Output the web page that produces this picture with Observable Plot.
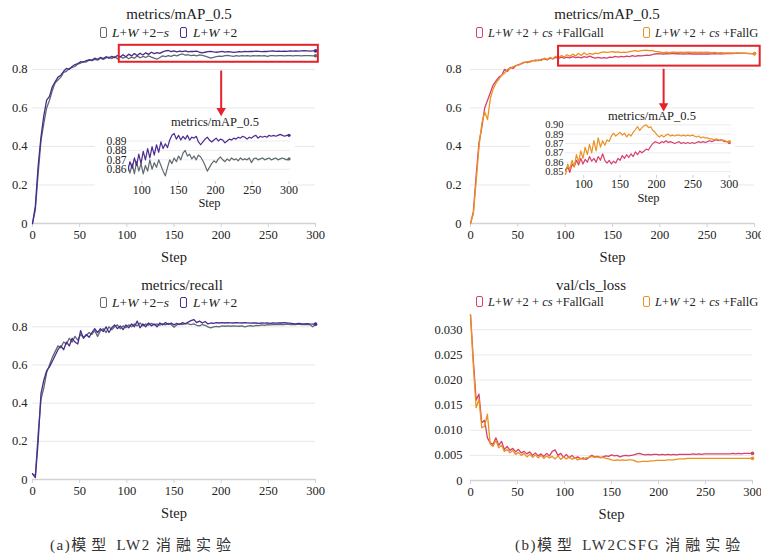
<!DOCTYPE html>
<html><head><meta charset="utf-8">
<script src="https://cdn.jsdelivr.net/npm/d3@7"></script>
<script src="https://cdn.jsdelivr.net/npm/@observablehq/plot@0.6"></script>
<style>
body{margin:0;background:#fff;}
#root{position:relative;width:761px;height:557px;overflow:hidden;background:#fff;font-family:"Liberation Serif",serif;color:#222;}
#root svg text{font-family:"Liberation Serif",serif;}
.title{position:absolute;font-size:15px;line-height:18px;transform:translateX(-50%);white-space:nowrap;}
.ititle{position:absolute;font-size:12.5px;line-height:16px;transform:translateX(-50%);white-space:nowrap;}
.leg{position:absolute;font-size:13.5px;line-height:16px;white-space:nowrap;}
.legb{position:absolute;font-size:12.5px;line-height:16px;white-space:nowrap;}
.sw{position:absolute;width:5px;height:9px;border:1.5px solid;border-radius:2px;}
.cap{position:absolute;font-family:"Liberation Serif","Noto Sans CJK SC",serif;font-size:15px;line-height:20px;white-space:nowrap;letter-spacing:1.5px;color:#333;}
.cap .cjk{font-family:"Noto Sans CJK SC",sans-serif;letter-spacing:5px;}
</style></head><body><div id="root"></div><script>
// ---------------- data ----------------
const steps = [0,3,6,9,12,15,18,21,24,27,30,33,36,39,42,45,48,51,54,57,60,63,66,69,72,75,78,81,84,87,90,93,96,99,102,105,108,111,114,117,120,123,126,129,132,135,138,141,144,147,150,153,156,159,162,165,168,171,174,177,180,183,186,189,192,195,198,201,204,207,210,213,216,219,222,225,228,231,234,237,240,243,246,249,252,255,258,261,264,267,270,273,276,279,282,285,288,291,294,297,300];

// (a) metrics/mAP_0.5
const mapA_LW2s = [0.000,0.070,0.260,0.430,0.520,0.600,0.640,0.690,0.730,0.745,
0.760,0.785,0.790,0.805,0.810,0.815,0.828,0.832,0.840,0.838,
0.848,0.845,0.852,0.848,0.858,0.852,0.860,0.864,0.856,0.866,
0.855,0.868,0.858,0.866,0.855,0.864,0.858,0.870,0.860,0.867,
0.862,0.870,0.864,0.858,0.853,0.862,0.870,0.866,0.872,0.868,
0.874,0.870,0.877,0.880,0.874,0.876,0.871,0.874,0.870,0.875,
0.873,0.869,0.864,0.858,0.862,0.866,0.869,0.867,0.871,0.873,
0.870,0.868,0.871,0.869,0.872,0.870,0.871,0.869,0.872,0.870,
0.871,0.870,0.872,0.867,0.871,0.872,0.870,0.871,0.872,0.870,
0.871,0.872,0.870,0.871,0.872,0.870,0.871,0.872,0.871,0.870,0.871];
const mapA_LW2 = [0.000,0.090,0.300,0.450,0.560,0.640,0.660,0.710,0.735,0.760,
0.770,0.790,0.805,0.800,0.815,0.825,0.830,0.840,0.838,0.846,
0.850,0.848,0.858,0.852,0.862,0.856,0.866,0.858,0.868,0.861,
0.872,0.864,0.876,0.866,0.879,0.870,0.882,0.872,0.884,0.875,
0.886,0.878,0.889,0.882,0.887,0.883,0.891,0.896,0.898,0.892,
0.896,0.891,0.895,0.892,0.896,0.891,0.894,0.893,0.895,0.889,
0.886,0.889,0.892,0.894,0.891,0.889,0.891,0.893,0.890,0.892,
0.891,0.888,0.890,0.892,0.891,0.893,0.892,0.894,0.893,0.895,
0.894,0.892,0.894,0.893,0.895,0.896,0.893,0.895,0.894,0.895,
0.894,0.896,0.895,0.896,0.895,0.896,0.897,0.896,0.895,0.896,0.896];

// (a) metrics/recall
const recall_LW2s = [0.030,0.020,0.240,0.420,0.480,0.560,0.600,0.640,0.670,0.700,
0.690,0.720,0.710,0.740,0.720,0.750,0.730,0.760,0.745,0.755,
0.770,0.760,0.780,0.750,0.780,0.790,0.770,0.800,0.785,0.800,
0.810,0.790,0.805,0.795,0.810,0.800,0.815,0.805,0.820,0.805,
0.815,0.808,0.818,0.810,0.815,0.808,0.816,0.810,0.818,0.812,
0.798,0.810,0.815,0.812,0.818,0.815,0.812,0.815,0.808,0.805,
0.812,0.808,0.800,0.795,0.800,0.802,0.800,0.805,0.803,0.805,
0.803,0.805,0.804,0.803,0.805,0.800,0.804,0.806,0.803,0.808,
0.806,0.810,0.808,0.811,0.810,0.812,0.811,0.812,0.813,0.812,
0.814,0.812,0.813,0.812,0.814,0.812,0.813,0.812,0.811,0.800,0.812];
const recall_LW2 = [0.030,0.010,0.200,0.450,0.520,0.570,0.590,0.620,0.650,0.680,
0.700,0.680,0.720,0.700,0.740,0.720,0.710,0.780,0.740,0.760,
0.745,0.770,0.790,0.770,0.790,0.775,0.800,0.770,0.795,0.810,
0.790,0.805,0.785,0.810,0.795,0.815,0.800,0.830,0.795,0.815,
0.800,0.820,0.805,0.815,0.800,0.820,0.810,0.822,0.812,0.820,
0.810,0.818,0.812,0.822,0.815,0.825,0.832,0.838,0.822,0.830,
0.820,0.828,0.815,0.820,0.818,0.822,0.820,0.822,0.820,0.822,
0.821,0.820,0.822,0.821,0.820,0.822,0.821,0.819,0.821,0.820,
0.818,0.820,0.819,0.821,0.818,0.820,0.819,0.821,0.820,0.822,
0.820,0.819,0.817,0.815,0.818,0.816,0.815,0.817,0.815,0.814,0.815];

// (b) metrics/mAP_0.5
const mapB_FallGall = [0.000,0.060,0.250,0.420,0.500,0.600,0.640,0.680,0.720,0.740,
0.760,0.770,0.800,0.790,0.810,0.805,0.820,0.825,0.830,0.838,
0.835,0.842,0.845,0.848,0.845,0.852,0.855,0.849,0.858,0.855,
0.862,0.857,0.864,0.858,0.863,0.860,0.866,0.861,0.864,0.860,
0.866,0.862,0.869,0.862,0.859,0.862,0.858,0.861,0.859,0.864,
0.862,0.867,0.864,0.868,0.865,0.869,0.866,0.871,0.868,0.872,
0.870,0.872,0.874,0.873,0.877,0.880,0.882,0.881,0.880,0.882,
0.881,0.883,0.881,0.882,0.881,0.880,0.881,0.882,0.880,0.881,
0.880,0.881,0.880,0.881,0.880,0.881,0.882,0.881,0.882,0.881,
0.882,0.883,0.882,0.883,0.884,0.883,0.884,0.883,0.882,0.882,0.881];
const mapB_FallG = [0.000,0.050,0.220,0.400,0.520,0.580,0.540,0.650,0.700,0.730,
0.750,0.770,0.780,0.800,0.805,0.815,0.820,0.822,0.832,0.835,
0.840,0.838,0.846,0.843,0.850,0.846,0.858,0.852,0.862,0.855,
0.868,0.860,0.872,0.864,0.876,0.868,0.879,0.870,0.883,0.872,
0.886,0.876,0.883,0.878,0.884,0.882,0.888,0.891,0.888,0.890,
0.892,0.889,0.891,0.887,0.890,0.888,0.892,0.895,0.898,0.894,
0.897,0.899,0.900,0.897,0.898,0.894,0.892,0.889,0.887,0.889,
0.887,0.889,0.890,0.888,0.889,0.888,0.889,0.889,0.888,0.889,
0.888,0.889,0.888,0.889,0.888,0.887,0.888,0.886,0.887,0.886,
0.886,0.885,0.885,0.884,0.885,0.884,0.883,0.884,0.883,0.882,0.882];

// (b) val/cls_loss
const loss_FallGall = [0.0330,0.0240,0.0160,0.0172,0.0115,0.0120,0.0085,0.0075,0.0072,0.0085,
0.0070,0.0078,0.0062,0.0068,0.0060,0.0064,0.0057,0.0062,0.0055,0.0058,
0.0053,0.0057,0.0050,0.0055,0.0049,0.0053,0.0048,0.0054,0.0049,0.0058,
0.0061,0.0050,0.0054,0.0046,0.0052,0.0045,0.0050,0.0044,0.0047,0.0043,
0.0045,0.0042,0.0046,0.0050,0.0047,0.0048,0.0046,0.0047,0.0049,0.0048,
0.0051,0.0049,0.0050,0.0047,0.0049,0.0050,0.0049,0.0050,0.0051,0.0053,
0.0054,0.0052,0.0051,0.0052,0.0051,0.0052,0.0052,0.0051,0.0052,0.0051,
0.0052,0.0051,0.0052,0.0051,0.0052,0.0052,0.0052,0.0052,0.0052,0.0053,
0.0052,0.0053,0.0052,0.0053,0.0053,0.0053,0.0053,0.0053,0.0053,0.0053,
0.0053,0.0053,0.0053,0.0054,0.0053,0.0054,0.0053,0.0054,0.0054,0.0054,0.0054];
const loss_FallG = [0.0330,0.0230,0.0145,0.0162,0.0105,0.0108,0.0132,0.0072,0.0068,0.0080,
0.0065,0.0070,0.0058,0.0062,0.0055,0.0060,0.0052,0.0056,0.0050,0.0054,
0.0047,0.0052,0.0046,0.0051,0.0045,0.0050,0.0044,0.0049,0.0045,0.0048,
0.0043,0.0049,0.0042,0.0047,0.0043,0.0048,0.0042,0.0046,0.0041,0.0044,
0.0042,0.0045,0.0046,0.0048,0.0046,0.0047,0.0045,0.0046,0.0044,0.0043,
0.0041,0.0040,0.0041,0.0040,0.0041,0.0040,0.0041,0.0041,0.0040,0.0037,
0.0037,0.0038,0.0038,0.0038,0.0039,0.0039,0.0040,0.0040,0.0040,0.0040,
0.0041,0.0041,0.0041,0.0042,0.0043,0.0043,0.0043,0.0044,0.0044,0.0044,
0.0044,0.0044,0.0044,0.0044,0.0044,0.0044,0.0044,0.0044,0.0044,0.0044,
0.0044,0.0044,0.0044,0.0044,0.0044,0.0044,0.0044,0.0044,0.0044,0.0044,0.0044];

// series names / colours
const namesA = ["L+W+2−s", "L+W+2"];
const colorsA = ["#5e6a6f", "#4a2b8e"];
const namesB = ["L+W+2+cs+FallGall", "L+W+2+cs+FallG"];
const colorsB = ["#d8406c", "#ea9220"];
const legendA = ["<i>L</i>+<i>W</i> +2−<i>s</i>", "<i>L</i>+<i>W</i> +2"];
const legendB = ["<i>L</i>+<i>W</i> +2 + <i>cs</i> +FallGall", "<i>L</i>+<i>W</i> +2 + <i>cs</i> +FallG"];

// titles / captions
const titles = ["metrics/mAP_0.5", "metrics/mAP_0.5", "metrics/recall", "val/cls_loss"];
const insetTitle = "metrics/mAP_0.5";
const xLabel = "Step";
const captions = ["(a)模型 LW2 消融实验", "(b)模型 LW2CSFG 消融实验"];

// ticks
const xTicks = [0, 50, 100, 150, 200, 250, 300];
const insetXTicks = [100, 150, 200, 250, 300];
const yTicksMetric = [0, 0.2, 0.4, 0.6, 0.8];
const yLabelsMetric = ["0", "0.2", "0.4", "0.6", "0.8"];
const yTicksLoss = [0, 0.005, 0.010, 0.015, 0.020, 0.025, 0.030];
const yLabelsLoss = ["0", "0.005", "0.010", "0.015", "0.020", "0.025", "0.030"];
const insetA_yTicks = [0.86, 0.87, 0.88, 0.89];
const insetA_yLabels = ["0.86", "0.87", "0.88", "0.89"];
const insetB_yTicks = [0.85, 0.86, 0.87, 0.88, 0.89, 0.90];
const insetB_yLabels = ["0.85", "0.86", "0.87", "0.87", "0.89", "0.90"];

// highlight boxes and arrows (data coordinates)
const boxA = [{x1: 92, x2: 303, y1: 0.837, y2: 0.925}];
const boxB = [{x1: 93, x2: 306, y1: 0.817, y2: 0.920}];
const arrowA = [{x: 200, y1: 0.794, y2: 0.585}];
const arrowB = [{x: 204, y1: 0.803, y2: 0.610}];

// ---------------- drawing ----------------
const root = document.getElementById("root");
const FONT = "Liberation Serif";

function rows(names, arrays) {
  return names.flatMap((n, k) => steps.map((s, i) => ({step: s, value: arrays[k][i], name: n})));
}
function place(node, left, top) {
  node.style.position = "absolute";
  node.style.left = left + "px";
  node.style.top = top + "px";
  root.appendChild(node);
}
function html(cls, text, left, top) {
  const d = document.createElement("div");
  d.className = cls; d.innerHTML = text;
  d.style.left = left + "px"; d.style.top = top + "px";
  root.appendChild(d);
  return d;
}

function mainPanel(c) {
  const data = rows(c.names, c.series);
  const lab = new Map(c.yTicks.map((t, i) => [t, c.yLabels[i]]));
  const marks = [
    Plot.gridY(c.yTicks, {stroke: "#e8e8ec", strokeOpacity: 1}),
    Plot.axisY(c.yTicks, {tickSize: 0, tickPadding: c.yPad, tickFormat: d => lab.get(d), label: null, fontSize: 12.5}),
    Plot.ruleY([0], {stroke: "#d2d2d8", strokeWidth: 1.6}),
    Plot.axisX(xTicks, {anchor: "bottom", tickSize: 4, stroke: "#d2d2d8", tickPadding: 3, label: null, fontSize: 12.5}),
    Plot.text([xLabel], {frameAnchor: "bottom", dy: 38, fontSize: 14.5, fill: "#222"}),
    Plot.line(data, {x: "step", y: "value", z: "name", stroke: "name", strokeWidth: 1.3}),
    Plot.dot(data, Plot.selectLast({x: "step", y: "value", z: "name", fill: "name", r: 1.8}))
  ];
  if (c.box) {
    marks.push(Plot.rect(c.box, {x1: "x1", x2: "x2", y1: "y1", y2: "y2", fill: "none", stroke: "#e5222b", strokeWidth: 2}));
    marks.push(Plot.link(c.arrow, {x1: "x", x2: "x", y1: "y1", y2: "y2", stroke: "#e5222b", strokeWidth: 2}));
    marks.push(Plot.dot(c.arrow, {x: "x", y: "y2", symbol: "triangle2", rotate: 180, r: 4.5, fill: "#e5222b", stroke: "none"}));
  }
  const svg = Plot.plot({
    width: c.width, height: c.height,
    marginTop: c.mt, marginBottom: c.mb, marginLeft: c.ml, marginRight: c.mr,
    style: {fontFamily: FONT, fontSize: "12.5px", color: "#222", background: "transparent", overflow: "visible"},
    x: {domain: [0, 300]},
    y: {domain: c.yDomain},
    color: {domain: c.names, range: c.colors},
    marks
  });
  place(svg, c.left, c.top);
}

function insetPanel(c) {
  const data = rows(c.names, c.series);
  const lab = new Map(c.yTicks.map((t, i) => [t, c.yLabels[i]]));
  const svg = Plot.plot({
    width: c.width, height: c.height,
    marginTop: c.mt, marginBottom: c.mb, marginLeft: c.ml, marginRight: c.mr,
    style: {fontFamily: FONT, fontSize: "11.5px", color: "#222", background: "#fff", overflow: "visible"},
    x: {domain: c.xDomain},
    y: {domain: c.yDomain},
    color: {domain: c.names, range: c.colors},
    marks: [
      Plot.gridY(c.yTicks, {stroke: "#ececf0", strokeOpacity: 1}),
      Plot.axisY(c.yTicks, {tickSize: 0, tickPadding: 2, tickFormat: d => lab.get(d), label: null, fontSize: c.yFont}),
      Plot.axisX(insetXTicks, {anchor: "bottom", tickSize: 3, stroke: "#cfcfd6", tickPadding: 1, label: null, fontSize: 12}),
      Plot.text([xLabel], {frameAnchor: "bottom", dy: c.sdy, fontSize: 12.5, fill: "#222"}),
      Plot.line(data, {x: "step", y: "value", z: "name", stroke: "name", strokeWidth: 1.2, clip: true}),
      Plot.dot(data, Plot.selectLast({x: "step", y: "value", z: "name", fill: "name", r: 1.6}))
    ]
  });
  place(svg, c.left, c.top);
}

// top-left: (a) mAP
mainPanel({left: 0, top: 36, width: 330, height: 232, mt: 4, mb: 45, ml: 32, mr: 15,
  yDomain: [0, 0.95], yTicks: yTicksMetric, yLabels: yLabelsMetric, yPad: 5,
  names: namesA, colors: colorsA, series: [mapA_LW2s, mapA_LW2], box: boxA, arrow: arrowA});
// top-right: (b) mAP
mainPanel({left: 380, top: 36, width: 381, height: 232, mt: 4, mb: 45, ml: 90, mr: 7,
  yDomain: [0, 0.95], yTicks: yTicksMetric, yLabels: yLabelsMetric, yPad: 9,
  names: namesB, colors: colorsB, series: [mapB_FallGall, mapB_FallG], box: boxB, arrow: arrowB});
// bottom-left: (a) recall
mainPanel({left: 0, top: 308, width: 330, height: 212, mt: 4, mb: 41, ml: 32, mr: 15,
  yDomain: [0, 0.875], yTicks: yTicksMetric, yLabels: yLabelsMetric, yPad: 5,
  names: namesA, colors: colorsA, series: [recall_LW2s, recall_LW2]});
// bottom-right: (b) loss
mainPanel({left: 380, top: 309, width: 381, height: 212, mt: 4, mb: 41, ml: 90, mr: 9,
  yDomain: [0, 0.03325], yTicks: yTicksLoss, yLabels: yLabelsLoss, yPad: 8,
  names: namesB, colors: colorsB, series: [loss_FallGall, loss_FallG]});

// insets
insetPanel({left: 95, top: 128, width: 200, height: 82, mt: 4, mb: 29, ml: 33, mr: 5, yFont: 11.5, sdy: 25,
  xDomain: [82, 302], yDomain: [0.847, 0.899], yTicks: insetA_yTicks, yLabels: insetA_yLabels,
  names: namesA, colors: colorsA, series: [mapA_LW2s, mapA_LW2]});
insetPanel({left: 530, top: 118, width: 205, height: 86, mt: 4, mb: 29, ml: 35, mr: 4, yFont: 10.5, sdy: 26,
  xDomain: [75, 303], yDomain: [0.8457, 0.9025], yTicks: insetB_yTicks, yLabels: insetB_yLabels,
  names: namesB, colors: colorsB, series: [mapB_FallGall, mapB_FallG]});

// titles
html("title", titles[0], 179, 5);
html("title", titles[1], 607, 5);
html("title", titles[2], 182, 276);
html("title", titles[3], 591, 276);
html("ititle", insetTitle, 215, 114);
html("ititle", insetTitle, 652, 108);

// legends
function legend(items, colors, xs, y, cls) {
  items.forEach((t, i) => {
    const s = document.createElement("div");
    s.className = "sw"; s.style.borderColor = colors[i];
    s.style.left = xs[i][0] + "px"; s.style.top = (y - 6) + "px";
    root.appendChild(s);
    html(cls, t, xs[i][1], y - 8);
  });
}
legend(legendA, colorsA, [[100, 112], [180, 193]], 33, "leg");
legend(legendA, colorsA, [[100, 112], [180, 193]], 303, "leg");
legend(legendB, colorsB, [[476, 488], [643, 655]], 33, "legb");
legend(legendB, colorsB, [[476, 488], [643, 655]], 302, "legb");

// captions (CJK runs get wider tracking)
function capHTML(t) { return t.replace(/([\u4e00-\u9fff]+)/g, '<span class="cjk">$1</span>'); }
html("cap", capHTML(captions[0]), 50, 534);
html("cap", capHTML(captions[1]), 515, 534);
</script></body></html>
